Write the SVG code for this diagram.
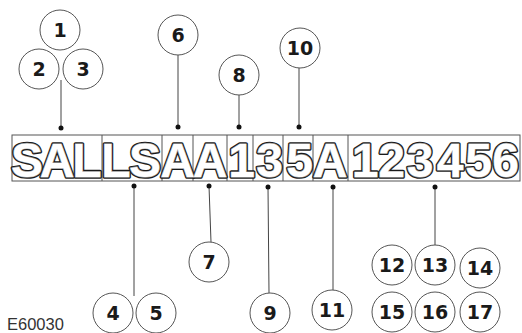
<svg xmlns="http://www.w3.org/2000/svg" xmlns:xlink="http://www.w3.org/1999/xlink" width="522" height="333" viewBox="0 0 522 333">
<style>
.bub{fill:#fff;stroke:#555;stroke-width:1}
.num{font-family:"DejaVu Sans",sans-serif;font-weight:bold;font-size:19px;fill:#1a1a1a;text-anchor:middle}
.lead{stroke:#444;stroke-width:1;fill:none}
.dot{fill:#111}
.box{fill:none;stroke:#555;stroke-width:1}
.vin{font-family:"Liberation Sans",Arial,sans-serif;font-weight:bold;font-size:48px;text-anchor:middle}
.l1{fill:#1a1a1a;stroke:#1a1a1a;stroke-width:3.6;stroke-linejoin:round}
.l2{fill:#fff;stroke:#8c8c8c;stroke-width:1.3;stroke-linejoin:round}
.l3{fill:#fff;stroke:none}
.code{font-family:"Liberation Sans",Arial,sans-serif;font-size:16.5px;fill:#333}
</style>
<defs>
<g id="chars" class="vin">
<text x="27" y="177">S</text><text x="57" y="177">A</text><text x="87" y="177">L</text>
<text x="116" y="177">L</text><text x="145" y="177">S</text>
<text x="177.5" y="177">A</text><text x="210" y="177">A</text>
<text x="241.5" y="177">1</text><text x="269.5" y="177">3</text><text x="299.5" y="177">5</text>
<text x="330" y="177">A</text>
<text x="365" y="177">1</text><text x="391.5" y="177">2</text><text x="420" y="177">3</text>
<text x="450" y="177">4</text><text x="478.5" y="177">5</text><text x="505.5" y="177">6</text>
</g>
</defs>
<g id="vin-box">
<rect class="box" x="12" y="135" width="508" height="46"/>
<path class="box" d="M102 135V181M162 135V181M193 135V181M227 135V181M253 135V181M283 135V181M313 135V181M348 135V181"/>
<use xlink:href="#chars" class="l1"/>
<use xlink:href="#chars" class="l2"/>
<use xlink:href="#chars" class="l3"/>
</g>
<g id="connectors">
<path class="lead" d="M61 80V128M178 55V127M239 95V127M299 68V127M134 186V296M209 186L211 242M268 187L269 293M333 187V290M435 187V245"/>
<circle class="dot" cx="61" cy="128" r="2.5"/><circle class="dot" cx="178" cy="127" r="2.5"/>
<circle class="dot" cx="239" cy="127" r="2.5"/><circle class="dot" cx="299" cy="127" r="2.5"/>
<circle class="dot" cx="134" cy="186" r="2.5"/><circle class="dot" cx="209" cy="186" r="2.5"/>
<circle class="dot" cx="268" cy="187" r="2.5"/><circle class="dot" cx="333" cy="187" r="2.5"/>
<circle class="dot" cx="435" cy="187" r="2.5"/>
</g>
<g id="n1"><circle class="bub" cx="60" cy="30" r="20"/><text class="num" x="60" y="37">1</text></g>
<g id="n2"><circle class="bub" cx="39" cy="69" r="20"/><text class="num" x="39" y="76">2</text></g>
<g id="n3"><circle class="bub" cx="83" cy="69" r="20"/><text class="num" x="83" y="76">3</text></g>
<g id="n6"><circle class="bub" cx="178" cy="35" r="20"/><text class="num" x="178" y="42">6</text></g>
<g id="n8"><circle class="bub" cx="239" cy="75" r="20"/><text class="num" x="239" y="82">8</text></g>
<g id="n10"><circle class="bub" cx="300" cy="48" r="20"/><text class="num" x="300" y="55">10</text></g>
<g id="n4"><circle class="bub" cx="113" cy="313" r="20"/><text class="num" x="113" y="320">4</text></g>
<g id="n5"><circle class="bub" cx="156" cy="313" r="20"/><text class="num" x="156" y="320">5</text></g>
<g id="n7"><circle class="bub" cx="209" cy="262" r="20"/><text class="num" x="209" y="269">7</text></g>
<g id="n9"><circle class="bub" cx="270" cy="313" r="20"/><text class="num" x="270" y="320">9</text></g>
<g id="n11"><circle class="bub" cx="332" cy="310" r="20"/><text class="num" x="332" y="317">11</text></g>
<g id="n12"><circle class="bub" cx="392" cy="265" r="20"/><text class="num" x="392" y="272">12</text></g>
<g id="n13"><circle class="bub" cx="435" cy="265" r="20"/><text class="num" x="435" y="272">13</text></g>
<g id="n14"><circle class="bub" cx="480" cy="268" r="20"/><text class="num" x="480" y="275">14</text></g>
<g id="n15"><circle class="bub" cx="392" cy="312" r="20"/><text class="num" x="392" y="319">15</text></g>
<g id="n16"><circle class="bub" cx="435" cy="312" r="20"/><text class="num" x="435" y="319">16</text></g>
<g id="n17"><circle class="bub" cx="480" cy="312" r="20"/><text class="num" x="480" y="319">17</text></g>
<text class="code" x="7" y="330">E60030</text>
</svg>
